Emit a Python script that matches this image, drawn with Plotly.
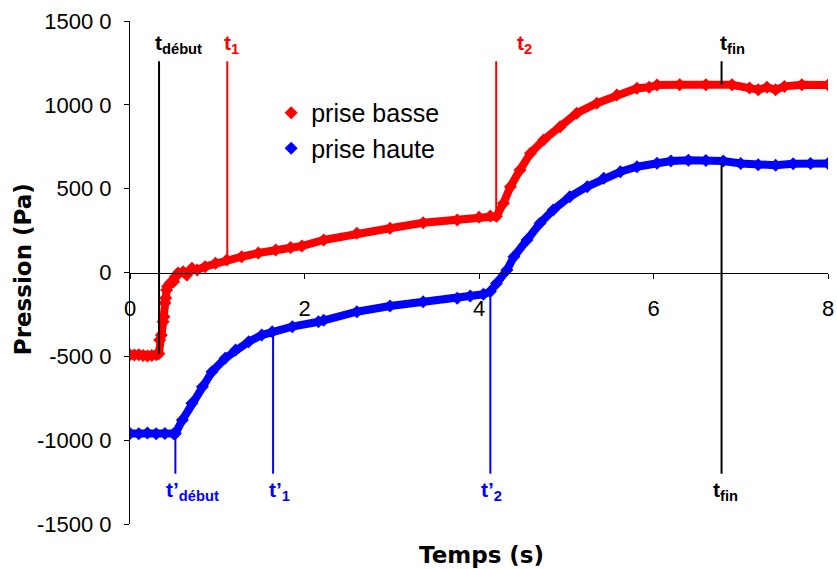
import plotly.graph_objects as go

# ---- data ----
t_basse = [0.00, 0.05, 0.10, 0.15, 0.20, 0.25, 0.30, 0.33, 0.34, 0.36, 0.38, 0.39, 0.40, 0.41,
           0.42, 0.43, 0.46, 0.50, 0.52, 0.55, 0.61, 0.65, 0.71, 0.77, 0.86, 0.98, 1.11, 1.28,
           1.47, 1.67, 1.84, 1.97, 2.22, 2.60, 2.98, 3.36, 3.75, 4.00, 4.13, 4.20, 4.28, 4.36,
           4.47, 4.59, 4.74, 4.93, 5.12, 5.35, 5.58, 5.81, 5.95, 6.04, 6.30, 6.60, 6.90, 7.10,
           7.20, 7.30, 7.40, 7.50, 7.70, 8.00]
p_basse = [-4900, -4920, -4900, -4950, -4980, -4950, -4900, -4850, -4030, -3730, -2930, -2640,
           -1820, -1520, -1040, -840, -630, -550, -250, -30, 50, -150, 250, 150, 350, 550, 750,
           940, 1160, 1340, 1490, 1580, 1940, 2340, 2640, 2970, 3130, 3300, 3370, 3350, 4130,
           5120, 6120, 7110, 7910, 8700, 9500, 10100, 10590, 10990, 11050, 11190, 11200, 11200,
           11200, 11000, 10900, 11050, 10900, 11100, 11200, 11190]

t_haute = [0.00, 0.10, 0.20, 0.30, 0.40, 0.50, 0.52, 0.60, 0.71, 0.83, 0.94, 1.09, 1.21, 1.36,
           1.51, 1.63, 1.86, 2.16, 2.22, 2.60, 2.98, 3.36, 3.75, 3.90, 4.05, 4.13, 4.20, 4.32,
           4.40, 4.55, 4.70, 4.85, 5.04, 5.24, 5.43, 5.62, 5.81, 6.04, 6.20, 6.40, 6.60, 6.80,
           7.00, 7.20, 7.40, 7.60, 7.80, 8.00]
p_haute = [-9600, -9620, -9580, -9620, -9600, -9620, -9600, -8800, -7800, -6810, -5920, -5120,
           -4620, -4130, -3730, -3530, -3230, -2940, -2850, -2340, -2000, -1740, -1540, -1400,
           -1300, -1140, -650, 150, 940, 1940, 2940, 3730, 4520, 5120, 5620, 6010, 6310, 6520,
           6650, 6700, 6680, 6650, 6500, 6420, 6400, 6480, 6500, 6500]

# marker times (s) and the pressures where the marker lines meet the curves
t_debut, t_1, t_2, t_fin = 0.333, 1.115, 4.197, 6.78
tp_debut, tp_1, tp_2 = 0.52, 1.64, 4.13
p_at_debut, p_at_1, p_at_2, p_at_fin_basse = -4850, 800, 3400, 11200
pp_at_debut, pp_at_1, pp_at_2, p_at_fin_haute = -9600, -3600, -1140, 6500
line_top, line_bottom = 12600, -12000

y_ticks = [15000, 10000, 5000, 0, -5000, -10000, -15000]
y_ticktext = ["1500 0", "1000 0", "500 0", "0", "-500 0", "-1000 0", "-1500 0"]
x_ticks = [0, 2, 4, 6, 8]

RED = "#FF0000"
BLUE = "#0000FF"

fig = go.Figure()
for t, p, col, name in [(t_basse, p_basse, RED, "prise basse"), (t_haute, p_haute, BLUE, "prise haute")]:
    fig.add_trace(go.Scatter(x=t, y=p, mode="lines+markers", showlegend=False,
                             line=dict(color=col, width=8),
                             marker=dict(symbol="diamond", size=10, color=col)))
    fig.add_trace(go.Scatter(x=[None], y=[None], mode="markers", name=name,
                             marker=dict(symbol="diamond", size=10, color=col)))

shapes = []
def vline(x, y0, y1, col):
    shapes.append(dict(type="line", xref="x", yref="y", x0=x, x1=x, y0=y0, y1=y1,
                       line=dict(color=col, width=2)))

vline(t_debut, p_at_debut, line_top, "black")
vline(t_1, p_at_1, line_top, RED)
vline(t_2, p_at_2, line_top, RED)
vline(t_fin, p_at_fin_basse, line_top, "black")
vline(t_fin, line_bottom, p_at_fin_haute, "black")
vline(tp_debut, line_bottom, pp_at_debut, BLUE)
vline(tp_1, line_bottom, pp_at_1, BLUE)
vline(tp_2, line_bottom, pp_at_2, BLUE)

lab_font = dict(family="Liberation Sans, Arial", size=21)
annotations = []
def label(x, y, text, col, xshift):
    annotations.append(dict(x=x, y=y, xref="x", yref="y", text=text, showarrow=False,
                            xanchor="left", yanchor="middle", xshift=xshift,
                            font=dict(lab_font, color=col)))

top_y, bot_y = 13600, -13050
label(t_debut, top_y, "<b>t<sub>début</sub></b>", "black", -6)
label(t_1, top_y, "<b>t<sub>1</sub></b>", RED, -5)
label(t_2, top_y, "<b>t<sub>2</sub></b>", RED, 19)
label(t_fin, top_y, "<b>t<sub>fin</sub></b>", "black", -4)
label(tp_debut, bot_y, "<b>t’<sub>début</sub></b>", BLUE, -11)
label(tp_1, bot_y, "<b>t’<sub>1</sub></b>", BLUE, -6)
label(tp_2, bot_y, "<b>t’<sub>2</sub></b>", BLUE, -11)
label(t_fin, bot_y, "<b>t<sub>fin</sub></b>", "black", -11)

title_font = dict(family="DejaVu Sans", size=23, color="black", weight="bold")
annotations.append(dict(text="Pression (Pa)", xref="paper", yref="paper", x=-0.153, y=0.332,
                        textangle=-90, showarrow=False, font=title_font,
                        xanchor="center", yanchor="bottom"))
annotations.append(dict(text="Temps (s)", xref="paper", yref="paper", x=0.503, y=-0.0616,
                        showarrow=False, font=title_font, xanchor="center", yanchor="middle"))

fig.update_layout(
    width=837, height=569,
    margin=dict(l=130, r=9, t=21, b=45, autoexpand=False),
    paper_bgcolor="white", plot_bgcolor="white",
    shapes=shapes, annotations=annotations,
    font=dict(family="Liberation Sans, Arial", size=22, color="black"),
    legend=dict(x=0.2023, y=0.863, xanchor="left", yanchor="top",
                bgcolor="rgba(0,0,0,0)", font=dict(size=25), itemwidth=30),
    xaxis=dict(range=[0, 8], tickvals=x_ticks, showgrid=False, zeroline=False,
               showline=True, linecolor="black", linewidth=1,
               ticks="outside", ticklen=5, tickcolor="black",
               anchor="free", position=0.5, ticklabelstandoff=11),
    yaxis=dict(range=[-15000, 15000], tickvals=y_ticks, ticktext=y_ticktext,
               showgrid=False, zeroline=False, showline=True, linecolor="black", linewidth=1,
               ticks="outside", ticklen=5, tickcolor="black", ticklabelstandoff=8),
)

# remove the page's default body margin so the figure fills the window exactly
fig.write_html("out.html", config={"displayModeBar": False},
               post_script="document.body.style.margin='0';document.body.style.overflow='hidden';")
